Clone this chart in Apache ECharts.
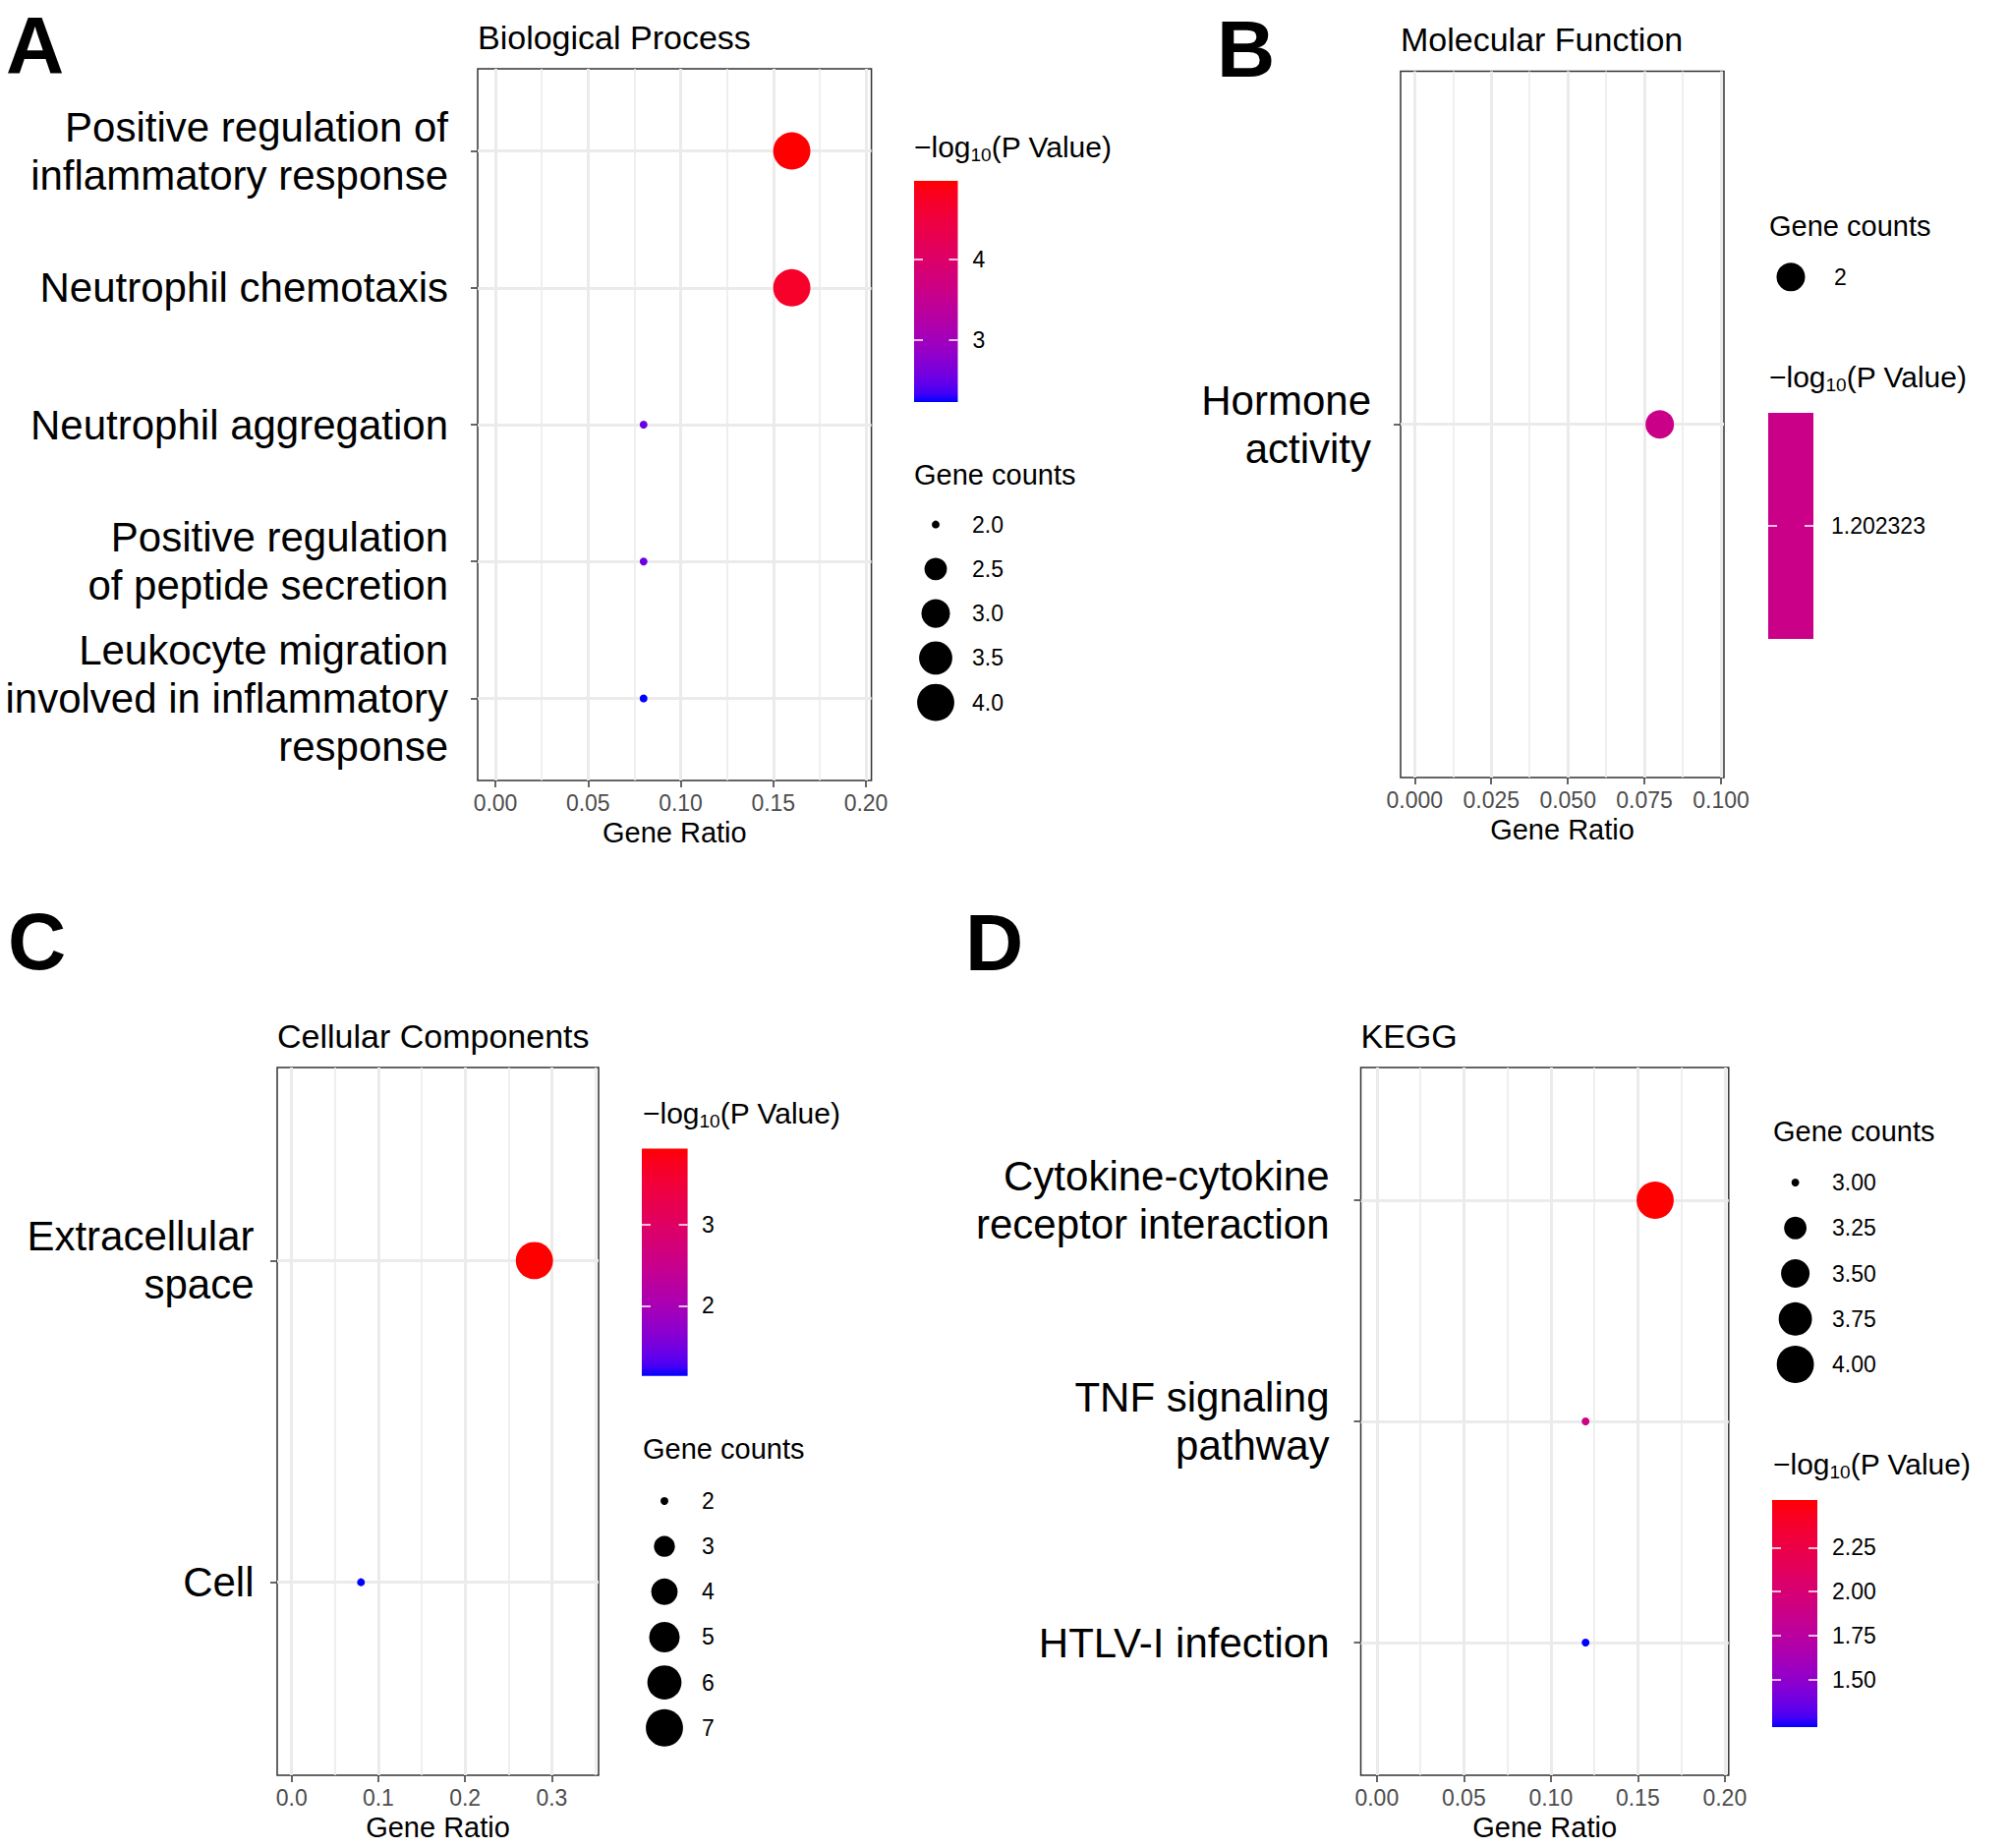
<!DOCTYPE html>
<html>
<head>
<meta charset="utf-8">
<script src="https://cdn.jsdelivr.net/npm/echarts@6/dist/echarts.min.js"></script>
<style>
html,body{margin:0;padding:0;background:#ffffff;}
#chart{width:2044px;height:1880px;}
</style>
</head>
<body>
<div id="chart"></div>
<script>
// ================= DATA =================
// Panel A - Biological Process
const bpTerms = [
  'Positive regulation of\ninflammatory response',
  'Neutrophil chemotaxis',
  'Neutrophil aggregation',
  'Positive regulation\nof peptide secretion',
  'Leukocyte migration\ninvolved in inflammatory\nresponse'
];
const bpRatio = [0.16, 0.16, 0.08, 0.08, 0.08];
const bpCount = [4, 4, 2, 2, 2];
const bpLogP  = [4.97, 4.70, 2.53, 2.53, 2.23];
const bpXTicks = [0, 0.05, 0.10, 0.15, 0.20];
const bpXMinor = [0.025, 0.075, 0.125, 0.175];
const bpColorTicks = [3, 4];
const bpColorLabels = ['3', '4'];
const bpSizeBreaks = [2.0, 2.5, 3.0, 3.5, 4.0];
const bpSizeLabels = ['2.0', '2.5', '3.0', '3.5', '4.0'];

// Panel B - Molecular Function
const mfTerms = ['Hormone\nactivity'];
const mfRatio = [0.08];
const mfCount = [2];
const mfLogP  = [1.202323];
const mfXTicks = [0, 0.025, 0.05, 0.075, 0.10];
const mfXMinor = [0.0125, 0.0375, 0.0625, 0.0875];
const mfColorTicks = [1.202323];
const mfColorLabels = ['1.202323'];
const mfSizeBreaks = [2];
const mfSizeLabels = ['2'];

// Panel C - Cellular Components
const ccTerms = ['Extracellular\nspace', 'Cell'];
const ccRatio = [0.28, 0.08];
const ccCount = [7, 2];
const ccLogP  = [3.93, 1.14];
const ccXTicks = [0, 0.1, 0.2, 0.3];
const ccXMinor = [0.05, 0.15, 0.25, 0.35];
const ccColorTicks = [2, 3];
const ccColorLabels = ['2', '3'];
const ccSizeBreaks = [2, 3, 4, 5, 6, 7];
const ccSizeLabels = ['2', '3', '4', '5', '6', '7'];

// Panel D - KEGG
const kgTerms = ['Cytokine-cytokine\nreceptor interaction', 'TNF signaling\npathway', 'HTLV-I infection'];
const kgRatio = [0.16, 0.12, 0.12];
const kgCount = [4, 3, 3];
const kgLogP  = [2.52, 1.90, 1.23];
const kgXTicks = [0, 0.05, 0.10, 0.15, 0.20];
const kgXMinor = [0.025, 0.075, 0.125, 0.175];
const kgColorTicks = [1.50, 1.75, 2.00, 2.25];
const kgColorLabels = ['1.50', '1.75', '2.00', '2.25'];
const kgSizeBreaks = [3.00, 3.25, 3.50, 3.75, 4.00];
const kgSizeLabels = ['3.00', '3.25', '3.50', '3.75', '4.00'];

// ================= STYLE HELPERS =================
const FONT = "'Liberation Sans', Arial, Helvetica, sans-serif";

function lin(c){ c /= 255; return c <= 0.04045 ? c/12.92 : Math.pow((c+0.055)/1.055, 2.4); }
function gam(c){ c = c <= 0.0031308 ? 12.92*c : 1.055*Math.pow(c, 1/2.4) - 0.055; return Math.round(Math.max(0, Math.min(1, c))*255); }
const WX = 0.95047, WY = 1.0, WZ = 1.08883;
function fL(t){ return t > 0.008856 ? Math.cbrt(t) : 7.787*t + 16/116; }
function fLi(t){ return t > 0.206893 ? t*t*t : (t - 16/116)/7.787; }
function toLab(rgb){
  const r = lin(rgb[0]), g = lin(rgb[1]), b = lin(rgb[2]);
  const X = (0.4124*r + 0.3576*g + 0.1805*b)/WX;
  const Y = (0.2126*r + 0.7152*g + 0.0722*b)/WY;
  const Z = (0.0193*r + 0.1192*g + 0.9505*b)/WZ;
  const fx = fL(X), fy = fL(Y), fz = fL(Z);
  return [116*fy - 16, 500*(fx - fy), 200*(fy - fz)];
}
function fromLab(L, a, b){
  const fy = (L + 16)/116, fx = fy + a/500, fz = fy - b/200;
  const X = fLi(fx)*WX, Y = fLi(fy)*WY, Z = fLi(fz)*WZ;
  const r = 3.2406*X - 1.5372*Y - 0.4986*Z;
  const g = -0.9689*X + 1.8758*Y + 0.0415*Z;
  const bb = 0.0557*X - 0.2040*Y + 1.0570*Z;
  return 'rgb(' + gam(r) + ',' + gam(g) + ',' + gam(bb) + ')';
}
const LAB_LOW = toLab([0, 0, 255]);
const LAB_HIGH = toLab([255, 0, 0]);
function mix(t){
  return fromLab(
    LAB_LOW[0] + (LAB_HIGH[0] - LAB_LOW[0])*t,
    LAB_LOW[1] + (LAB_HIGH[1] - LAB_LOW[1])*t,
    LAB_LOW[2] + (LAB_HIGH[2] - LAB_LOW[2])*t);
}
const NSTOP = 24;
const rampColors = Array.from({length: NSTOP + 1}, (_, i) => mix(i/NSTOP));

// ggplot-like area scale: size range 1..6, diameter in px
const PX_PER_PT = 2.1;
function dotSize(v, lo, hi){
  const t = hi > lo ? (v - lo)/(hi - lo) : 0.5;
  const s = 1 + 5*Math.sqrt(Math.max(0, t));
  return PX_PER_PT*(2.845*s + 0.945);
}

// ================= LAYOUT =================
const layoutA = {box:[486,70,886.6,794], xMin:-0.00955, xMax:0.20297, labelMargin:30,
  letter:[6,45], title:[486,38], cb:[930,184,974.5,409], cbMargin:15, cbTitle:[930,149],
  sz:{cx:952, y0:533.6, sp:45.25}, szMargin:15, szTitle:[930,482.6]};
const layoutB = {box:[1425,72.5,1754,791], xMin:-0.00459, xMax:0.10096, labelMargin:30,
  letter:[1238,49], title:[1425,40], cb:[1799,420,1845,650], cbMargin:18, cbTitle:[1800,383],
  sz:{cx:1822, y0:281.8, sp:45.25}, szMargin:22, szTitle:[1800,229.6]};
const layoutC = {box:[282,1086,609,1806], xMin:-0.01666, xMax:0.354, labelMargin:23.5,
  letter:[8,957.5], title:[282,1054], cb:[653,1168.4,699.6,1399.8], cbMargin:14.5, cbTitle:[654,1132],
  sz:{cx:676, y0:1527, sp:46.15}, szMargin:16, szTitle:[654,1473.6]};
const layoutD = {box:[1384.5,1086,1758.8,1806], xMin:-0.0092, xMax:0.20226, labelMargin:32,
  letter:[982,958], title:[1384.5,1054], cb:[1803,1526,1849,1757], cbMargin:15, cbTitle:[1804,1489],
  sz:{cx:1826.6, y0:1203, sp:46.25}, szMargin:15.4, szTitle:[1804,1151]};

// ================= OPTION BUILD =================
const option = {
  animation: false,
  backgroundColor: '#ffffff',
  grid: [], xAxis: [], yAxis: [], series: [], visualMap: [], graphic: []
};

function txt(x, y, text, size, weight, lh){
  return {type:'text', x:x, y:y, silent:true, style:{
    text:text, fontSize:size, fontWeight:weight || 'normal', fontFamily:FONT, fill:'#000',
    lineHeight: lh || Math.round(size*1.2),
    align:'left', textAlign:'left', verticalAlign:'middle', textVerticalAlign:'middle'}};
}

const NOLINE = {show:false, onZero:false};

function addPanel(D, L){
  const n = D.terms.length;
  const cmin = Math.min(...D.count), cmax = Math.max(...D.count);
  const pmin = Math.min(...D.logp), pmax = Math.max(...D.logp);
  const yPos = D.terms.map((t, i) => i + 1);

  // ---- main plot ----
  const g = option.grid.length;
  option.grid.push({left:L.box[0], top:L.box[1], width:L.box[2]-L.box[0], height:L.box[3]-L.box[1],
    show:true, borderColor:'#333333', borderWidth:1.5, backgroundColor:'rgba(0,0,0,0)'});
  option.xAxis.push({type:'value', gridIndex:g, position:'top', min:L.xMin, max:L.xMax,
    axisLine:NOLINE, axisTick:{show:false, customValues:D.xMinor}, axisLabel:{show:false},
    splitLine:{show:true, customValues:D.xMinor, lineStyle:{color:'#EBEBEB', width:1.6}}});
  const xIdx = option.xAxis.length;
  option.xAxis.push({type:'value', gridIndex:g, position:'bottom', min:L.xMin, max:L.xMax,
    axisLine:NOLINE,
    axisTick:{show:true, length:7, customValues:D.xTicks, lineStyle:{color:'#333333', width:1.5}},
    axisLabel:{customValues:D.xTicks, formatter:(v) => v.toFixed(D.xDigits), fontSize:23,
      color:'#4D4D4D', fontFamily:FONT, margin:11},
    splitLine:{show:true, customValues:D.xTicks, lineStyle:{color:'#EBEBEB', width:3}},
    name:'Gene Ratio', nameLocation:'middle', nameGap:38,
    nameTextStyle:{fontSize:29, color:'#000', fontFamily:FONT}});
  const yIdx = option.yAxis.length;
  option.yAxis.push({type:'value', gridIndex:g, inverse:true, min:0.4, max:n + 0.6,
    axisLine:NOLINE,
    axisTick:{show:true, length:7, customValues:yPos, lineStyle:{color:'#333333', width:1.5}},
    axisLabel:{customValues:yPos, formatter:(v) => D.terms[Math.round(v) - 1] || '',
      fontSize:42, lineHeight:49, color:'#000', fontFamily:FONT, margin:L.labelMargin},
    splitLine:{show:true, customValues:yPos, lineStyle:{color:'#EBEBEB', width:3}}});
  const sIdx = option.series.length;
  option.series.push({type:'scatter', xAxisIndex:xIdx, yAxisIndex:yIdx, silent:true, z:5,
    data:D.ratio.map((r, i) => [r, i + 1, D.count[i], D.logp[i]]),
    encode:{x:0, y:1},
    symbolSize:(v) => dotSize(v[2], cmin, cmax),
    itemStyle:{opacity:1}});
  option.visualMap.push({type:'continuous', show:false, seriesIndex:sIdx, dimension:3,
    min:pmin, max:pmax, inRange:{color:rampColors}});

  // ---- colour bar ----
  const cbLo = pmin < pmax ? pmin : pmin - 1;
  const cbHi = pmin < pmax ? pmax : pmax + 1;
  const cg = option.grid.length;
  option.grid.push({left:L.cb[0], top:L.cb[1], width:L.cb[2]-L.cb[0], height:L.cb[3]-L.cb[1], show:false});
  const cbx = option.xAxis.length;
  option.xAxis.push({type:'value', gridIndex:cg, min:0, max:1, show:false, axisLine:NOLINE});
  const cby = option.yAxis.length;
  option.yAxis.push({type:'value', gridIndex:cg, position:'right', min:cbLo, max:cbHi, z:10,
    axisLine:NOLINE,
    axisTick:{show:true, inside:true, length:9, customValues:D.colorTicks, lineStyle:{color:'#ffffff', width:1.5}},
    axisLabel:{customValues:D.colorTicks,
      formatter:(v) => { const k = D.colorTicks.findIndex(t => Math.abs(t - v) < 1e-6); return k >= 0 ? D.colorLabels[k] : ''; },
      fontSize:23, color:'#000', fontFamily:FONT, margin:L.cbMargin},
    splitLine:{show:false}});
  option.yAxis.push({type:'value', gridIndex:cg, position:'left', min:cbLo, max:cbHi, z:10,
    axisLine:NOLINE,
    axisTick:{show:true, inside:true, length:9, customValues:D.colorTicks, lineStyle:{color:'#ffffff', width:1.5}},
    axisLabel:{show:false}, splitLine:{show:false}});
  const fill = pmin < pmax
    ? new echarts.graphic.LinearGradient(0, 0, 0, 1,
        rampColors.map((c, i) => ({offset:i/NSTOP, color:rampColors[NSTOP - i]})))
    : mix(0.5);
  option.series.push({type:'custom', xAxisIndex:cbx, yAxisIndex:cby, silent:true, z:1,
    data:[[0, cbLo, 1, cbHi]], encode:{x:[0, 2], y:[1, 3]},
    renderItem:(params, api) => {
      const a = api.coord([api.value(0), api.value(3)]);
      const b = api.coord([api.value(2), api.value(1)]);
      return {type:'rect', shape:{x:a[0], y:a[1], width:b[0]-a[0], height:b[1]-a[1]}, style:{fill:fill}};
    }});

  // ---- size legend ----
  const k = D.sizeBreaks.length;
  const lg = option.grid.length;
  option.grid.push({left:L.sz.cx - 22, width:44, top:L.sz.y0 - L.sz.sp/2, height:k*L.sz.sp, show:false});
  const lx = option.xAxis.length;
  option.xAxis.push({type:'value', gridIndex:lg, min:0, max:1, show:false, axisLine:NOLINE});
  const ly = option.yAxis.length;
  const lPos = D.sizeBreaks.map((b, i) => i + 1);
  option.yAxis.push({type:'value', gridIndex:lg, position:'right', inverse:true, min:0.5, max:k + 0.5,
    axisLine:NOLINE, axisTick:{show:false, customValues:lPos},
    axisLabel:{customValues:lPos, formatter:(v) => D.sizeLabels[Math.round(v) - 1] || '',
      fontSize:23, color:'#000', fontFamily:FONT, margin:L.szMargin},
    splitLine:{show:false}});
  option.series.push({type:'scatter', xAxisIndex:lx, yAxisIndex:ly, silent:true, z:5,
    data:D.sizeBreaks.map((b, i) => [0.5, i + 1, b]), encode:{x:0, y:1},
    symbolSize:(v) => dotSize(v[2], cmin, cmax),
    itemStyle:{color:'#000000', opacity:1}});

  // ---- texts ----
  option.graphic.push(txt(L.letter[0], L.letter[1], D.letter, 82, 'bold', 70));
  option.graphic.push(txt(L.title[0], L.title[1], D.title, 34));
  option.graphic.push(txt(L.szTitle[0], L.szTitle[1], 'Gene counts', 29));
  option.graphic.push({type:'text', x:L.cbTitle[0], y:L.cbTitle[1], silent:true, style:{
    text:'{a|\u2212log}{b|10}{a|(P Value)}',
    align:'left', textAlign:'left', verticalAlign:'middle', textVerticalAlign:'middle',
    rich:{
      a:{fontSize:30, fontFamily:FONT, fill:'#000', lineHeight:36},
      b:{fontSize:19, fontFamily:FONT, fill:'#000', lineHeight:19, verticalAlign:'bottom'}
    }}});
}

addPanel({terms:bpTerms, ratio:bpRatio, count:bpCount, logp:bpLogP, xTicks:bpXTicks, xMinor:bpXMinor, xDigits:2,
  colorTicks:bpColorTicks, colorLabels:bpColorLabels, sizeBreaks:bpSizeBreaks, sizeLabels:bpSizeLabels,
  letter:'A', title:'Biological Process'}, layoutA);
addPanel({terms:mfTerms, ratio:mfRatio, count:mfCount, logp:mfLogP, xTicks:mfXTicks, xMinor:mfXMinor, xDigits:3,
  colorTicks:mfColorTicks, colorLabels:mfColorLabels, sizeBreaks:mfSizeBreaks, sizeLabels:mfSizeLabels,
  letter:'B', title:'Molecular Function'}, layoutB);
addPanel({terms:ccTerms, ratio:ccRatio, count:ccCount, logp:ccLogP, xTicks:ccXTicks, xMinor:ccXMinor, xDigits:1,
  colorTicks:ccColorTicks, colorLabels:ccColorLabels, sizeBreaks:ccSizeBreaks, sizeLabels:ccSizeLabels,
  letter:'C', title:'Cellular Components'}, layoutC);
addPanel({terms:kgTerms, ratio:kgRatio, count:kgCount, logp:kgLogP, xTicks:kgXTicks, xMinor:kgXMinor, xDigits:2,
  colorTicks:kgColorTicks, colorLabels:kgColorLabels, sizeBreaks:kgSizeBreaks, sizeLabels:kgSizeLabels,
  letter:'D', title:'KEGG'}, layoutD);

const chart = echarts.init(document.getElementById('chart'), null, {renderer:'svg', width:2044, height:1880});
chart.setOption(option);
</script>
</body>
</html>
